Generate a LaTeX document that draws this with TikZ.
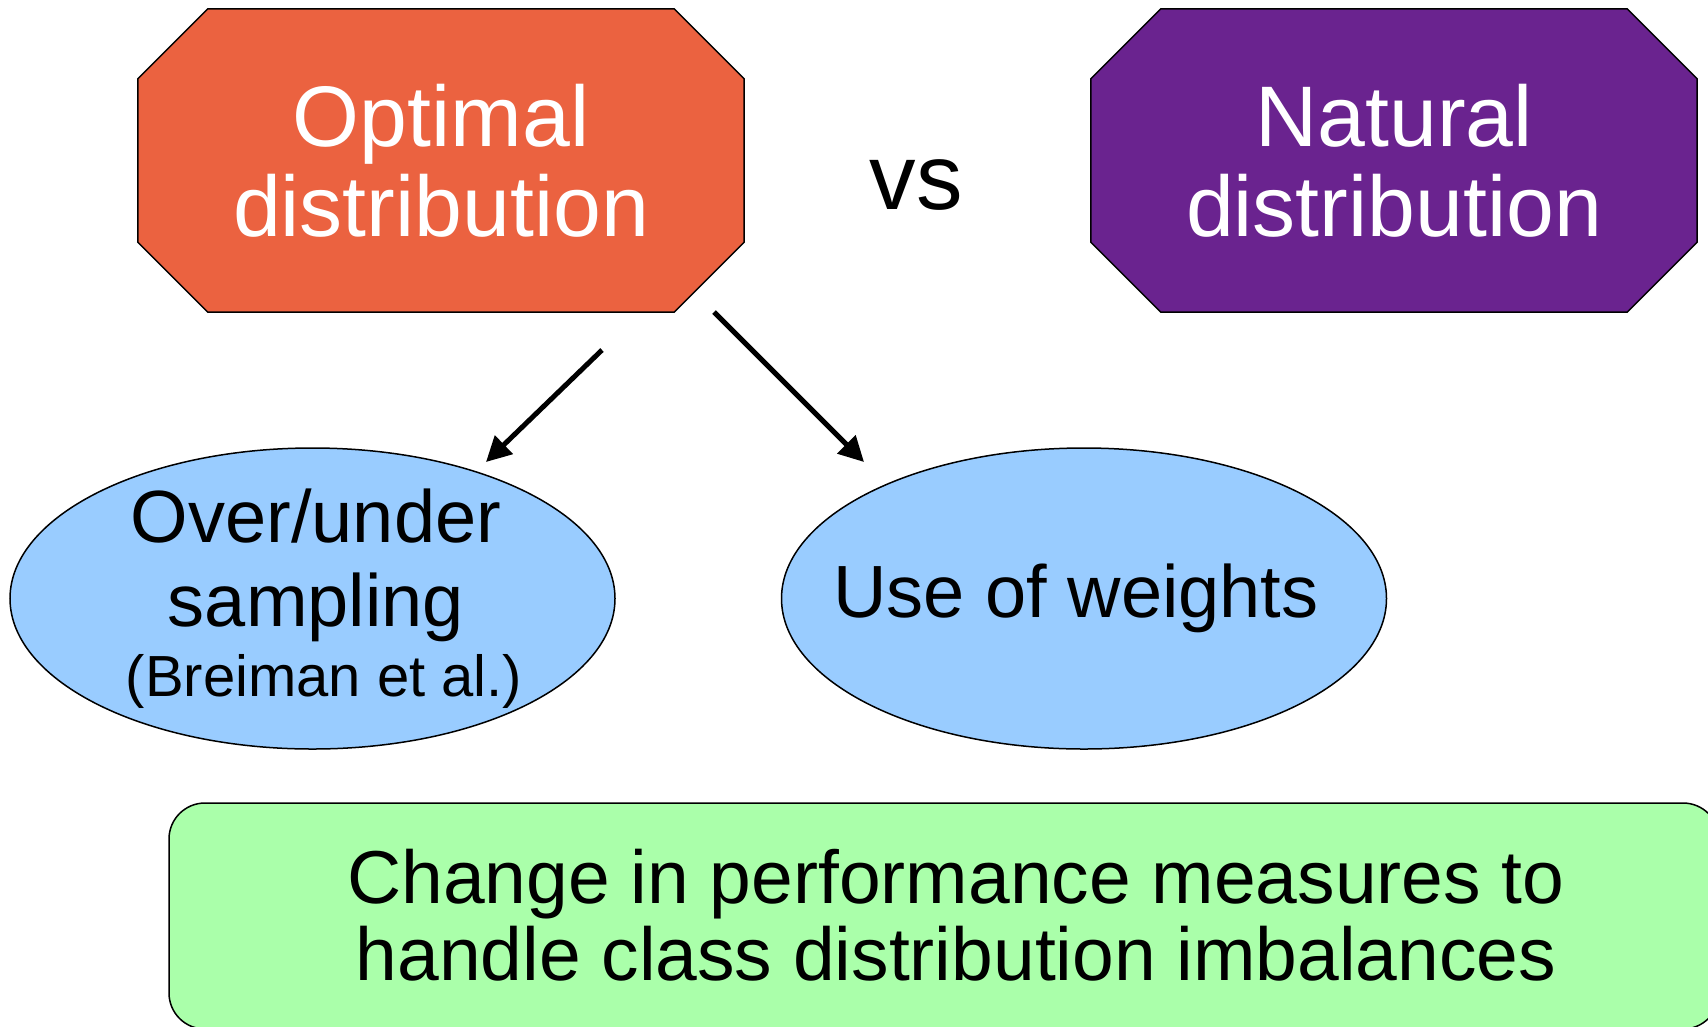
\documentclass[tikz,border=0pt]{standalone}
\usepackage{fontspec}
\setmainfont{Liberation Sans}
\usetikzlibrary{arrows.meta,shapes.geometric,backgrounds}
\definecolor{optfill}{HTML}{EB6240}
\definecolor{natfill}{HTML}{6A238F}
\definecolor{ovalfill}{HTML}{99CCFF}
\definecolor{notefill}{HTML}{AAFFAA}
% octagon outline around a rectangular node, chamfer #3
\newcommand\chamferbox[3]{%
  \draw[line width=1.5pt, fill=#2]
    ([xshift=#3]#1.north west) -- ([xshift=-#3]#1.north east)
    -- ([yshift=-#3]#1.north east) -- ([yshift=#3]#1.south east)
    -- ([xshift=-#3]#1.south east) -- ([xshift=#3]#1.south west)
    -- ([yshift=#3]#1.south west) -- ([yshift=-#3]#1.north west) -- cycle;}
\begin{document}
\begin{tikzpicture}[x=1pt,y=-1pt,
  octbox/.style={minimum width=606pt, minimum height=303pt, inner sep=0pt,
    align=center, text=white, font=\fontsize{86}{90}\selectfont},
  oval/.style={ellipse, draw=black, line width=1.5pt, fill=ovalfill,
    minimum width=605pt, minimum height=301pt, inner sep=0pt},
  bigtext/.style={align=center, font=\fontsize{74}{84}\selectfont},
  notebox/.style={draw=black, line width=1.5pt, fill=notefill,
    rounded corners=36pt, minimum width=1550pt, minimum height=226pt, inner sep=0pt},
  link/.style={line width=5pt, -{Triangle[length=25pt,width=25pt]}}
]
\useasboundingbox (0,0) rectangle (1708,1026);

% top row
\node[octbox] (opt) at (441,160.5) {Optimal\\distribution};
\node[octbox] (nat) at (1394,160.5) {Natural\\distribution};
\node[font=\fontsize{93}{93}\selectfont] (vs) at (916,185) {vs};
\begin{scope}[on background layer]
  \chamferbox{opt}{optfill}{70pt}
  \chamferbox{nat}{natfill}{70pt}
\end{scope}

% the two remedies
\node[oval] (samp) at (312.5,598.5) {};
\node[bigtext] (samptext) at (316,599)
  {Over/under\\sampling\\[-14pt]\fontsize{58}{68}\selectfont\ (Breiman et al.)};
\node[oval] (wts) at (1084,598.5) {};
\node[bigtext] (wtstext) at (1076,598.5) {Use of weights};

% arrows
\coordinate (a1s) at (602,350);
\coordinate (a1e) at (486,462);
\coordinate (a2s) at (714,312);
\coordinate (a2e) at (864,462);
\draw[link] (a1s) -- (a1e);
\draw[link] (a2s) -- (a2e);

% bottom note
\node[notebox] (note) at (944,916) {};
\node[align=center, font=\fontsize{75}{77}\selectfont] (notetext) at (956,915)
  {Change in performance measures to\\handle class distribution imbalances};
\end{tikzpicture}
\end{document}
